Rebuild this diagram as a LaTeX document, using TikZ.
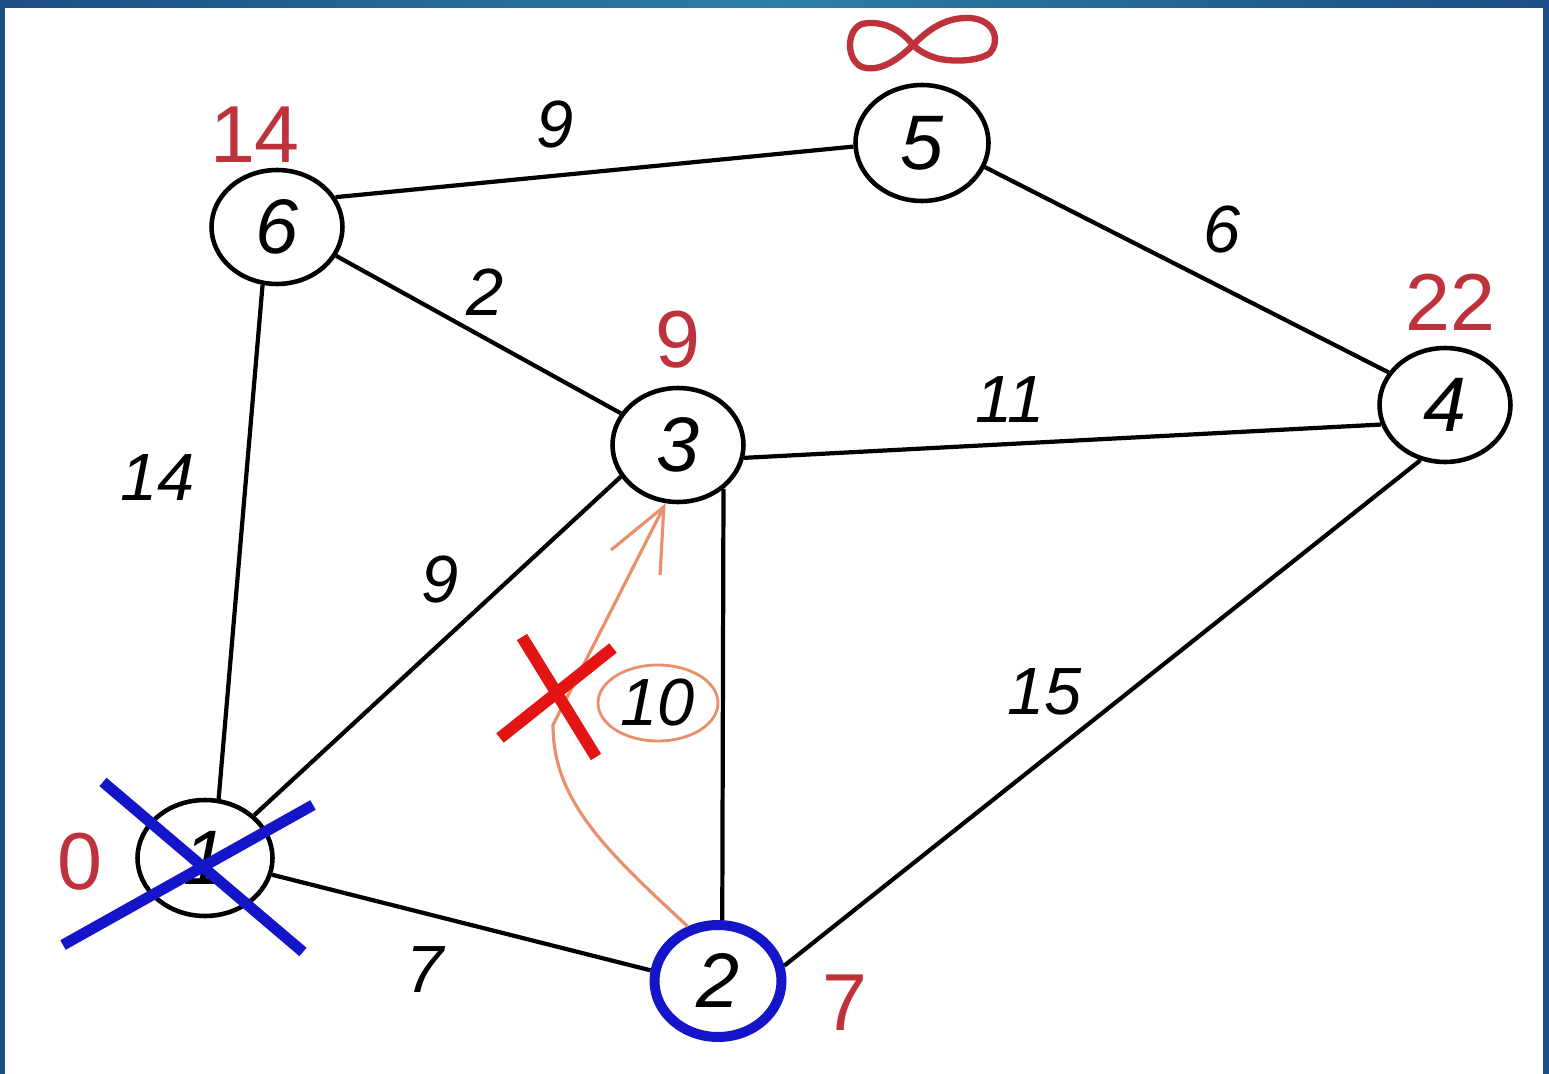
\documentclass[tikz,border=0pt]{standalone}
\usepackage{fontspec}
\setmainfont{Liberation Sans}
\usetikzlibrary{shapes.geometric,arrows.meta}
\definecolor{frameA}{HTML}{1B4D82}
\definecolor{frameB}{HTML}{2C7EA6}
\definecolor{distred}{HTML}{BE323C}
\definecolor{crossred}{HTML}{E31414}
\definecolor{crossblue}{HTML}{1414C8}
\definecolor{orangeline}{HTML}{E8906A}
\tikzset{
  vertex/.style={draw=black, line width=2.6pt, ellipse, inner sep=0pt,
    minimum width=2.62cm, minimum height=2.28cm,
    font=\fontsize{44}{44}\selectfont\itshape},
  edge/.style={draw=black, line width=2.4pt},
  wlabel/.style={font=\fontsize{38}{38}\selectfont\itshape, inner sep=0pt},
  dlabel/.style={text=distred, font=\fontsize{46}{46}\selectfont, inner sep=0pt},
  xmark/.style={line width=0.24cm, line cap=butt},
}
\begin{document}
\begin{tikzpicture}[x=0.02cm, y=-0.02cm]
\useasboundingbox (0,0) rectangle (1549,1074);
% frame
\fill[frameA] (0,0) rectangle (1549,1074);
\fill[white] (5,8) rectangle (1543,1074);
\shade[left color=frameA, right color=frameA, middle color=frameB] (0,0) rectangle (1549,8);
\fill[frameA] (1543,0) rectangle (1549,1074);
\fill[frameA] (0,0) rectangle (5,1074);

% vertices
\node[vertex] (n6) at (277,227) {6};
\node[vertex, minimum width=2.66cm, minimum height=2.32cm] (n5) at (922,143) {5};
\node[vertex] (n3) at (678,445) {3};
\node[vertex] (n4) at (1445,405) {4};
\node[vertex, minimum width=2.7cm, minimum height=2.32cm] (n1) at (205,858) {1};
\node[vertex, draw=crossblue, line width=0.2cm, minimum width=2.54cm, minimum height=2.24cm] (n2) at (718,981) {2};

% edges
\draw[edge] (n6.27) -- (n5.183);
\draw[edge] (n6.-26) -- (n3.151);
\draw[edge] (n6.-104) -- (n1.77);
\draw[edge] (n5.-21) -- (n4.150);
\draw[edge] (n3.-11) -- (n4.197);
\draw[edge] (n3.209) -- (n1.41);
\draw[edge] (n3.-44) -- (n2.86);
\draw[edge] (n1.-14) -- (n2.171);
\draw[edge] (n2.13) -- (n4.246);

% edge weights
\node[wlabel] (w65) at (555,125) {9};
\node[wlabel] (w54) at (1222,230) {6};
\node[wlabel] (w63) at (485,292) {2};
\node[wlabel] (w34) at (1010,400) {11};
\node[wlabel] (w61) at (158,478) {14};
\node[wlabel] (w31) at (440,580) {9};
\node[wlabel] (w24) at (1045,692) {15};
\node[wlabel] (w12) at (425,970) {7};

% distances
\node[dlabel] (d6) at (255,135) {14};
\node[dlabel] (d3) at (678,340) {9};
\node[dlabel] (d4) at (1450,302) {22};
\node[dlabel] (d1) at (80,862) {0};
\node[dlabel] (d2) at (845,1003) {7};
\coordinate (d5) at (913,45);
\draw[distred, line width=3.6pt, line join=round]
  (d5) .. controls (900,28) and (880,20) .. (862,24)
  .. controls (846,30) and (846,60) .. (862,67)
  .. controls (880,73) and (900,58) .. (d5)
  .. controls (928,30) and (945,17) .. (970,18)
  .. controls (996,20) and (1000,42) .. (990,53)
  .. controls (978,62) and (950,62) .. (936,58)
  .. controls (926,55) and (918,50) .. (d5);

% orange relaxation arrow and candidate weight
\node[draw=orangeline, line width=1.6pt, ellipse, minimum width=2.4cm, minimum height=1.52cm, inner sep=0pt, wlabel] (w10) at (658,703) {10};
\coordinate (bend) at (553,725);
\draw[orangeline, line width=1.8pt, -{Straight Barb[length=1.25cm, width=1.1cm]}]
  (n2.119) .. controls (605,850) and (553,800) .. (bend) -- (n3.-102);

% crosses
\draw[crossred, xmark] (522,637) -- (596,757);
\draw[crossred, xmark] (500,738) -- (613,648);
\draw[crossblue, line width=0.22cm] (103,782) -- (303,952);
\draw[crossblue, line width=0.22cm] (63,945) -- (313,805);
\end{tikzpicture}
\end{document}
